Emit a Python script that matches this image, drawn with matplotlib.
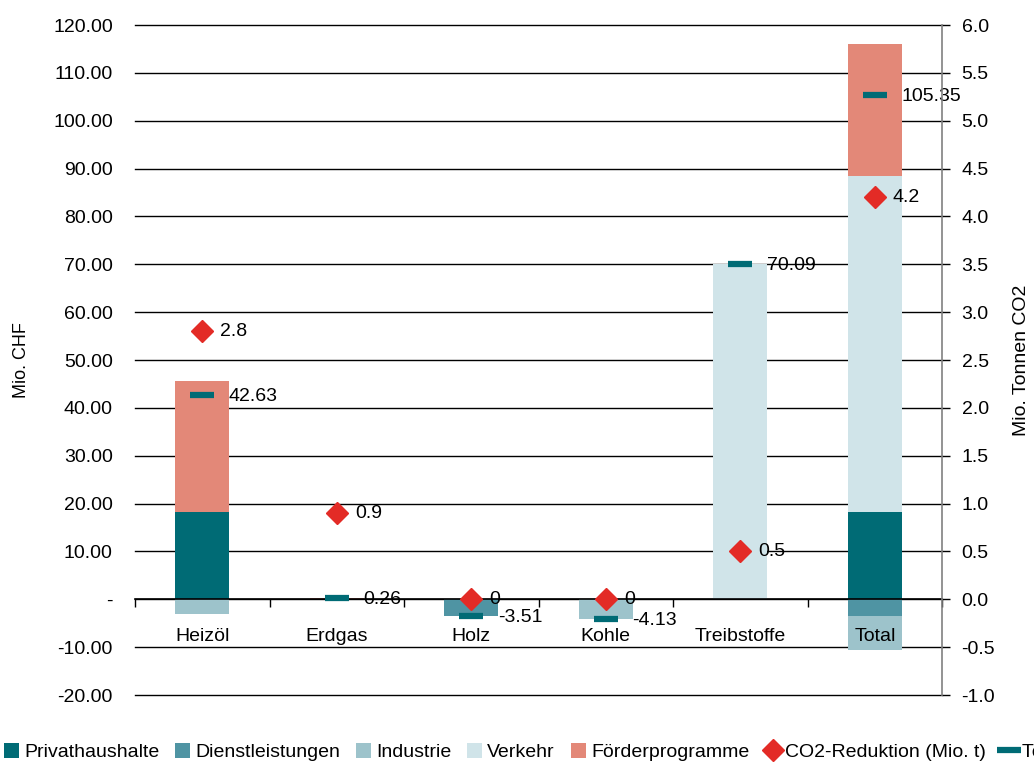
import numpy as np
import matplotlib.pyplot as plt
from matplotlib.lines import Line2D
from matplotlib.patches import Patch
from matplotlib.ticker import FuncFormatter, MultipleLocator

plt.rcParams['font.family'] = ['Liberation Sans Narrow', 'Liberation Sans', 'DejaVu Sans']

# -----------------------------
# Data
# -----------------------------
categories = ["Heizöl", "Erdgas", "Holz", "Kohle", "Treibstoffe", "Total"]

privathaushalte = [18.3, 0.0, 0.0, 0.0, 0.0, 18.3]
dienstleistungen = [0.0, 0.0, -3.51, 0.0, 0.0, -3.51]
industrie = [-2.97, 0.0, 0.0, -4.13, 0.0, -7.10]
verkehr = [0.0, 0.0, 0.0, 0.0, 70.09, 70.09]
foerderprogramme = [27.3, 0.26, 0.0, 0.0, 0.0, 27.57]

total_chf = [42.63, 0.26, -3.51, -4.13, 70.09, 105.35]
co2_reduktion = [2.8, 0.9, 0, 0, 0.5, 4.2]

series = [
    ("Privathaushalte", privathaushalte, "#006b75"),
    ("Dienstleistungen", dienstleistungen, "#4f94a3"),
    ("Industrie", industrie, "#9dc3cb"),
    ("Verkehr", verkehr, "#d0e4e9"),
    ("Förderprogramme", foerderprogramme, "#e38878"),
]

FS = 14

# -----------------------------
# Figure
# -----------------------------
fig = plt.figure(figsize=(10.34, 7.63), dpi=100)
ax = fig.add_axes([0.1306, 0.0891, 0.7805, 0.8781])
ax2 = ax.twinx()

x = np.arange(len(categories))
pos_bottom = np.zeros(len(categories))
neg_bottom = np.zeros(len(categories))
for name, vals, col in series:
    vals = np.array(vals)
    bottom = np.where(vals >= 0, pos_bottom, neg_bottom)
    ax.bar(x, vals, width=0.4, bottom=bottom, color=col, zorder=2)
    pos_bottom += np.where(vals >= 0, vals, 0)
    neg_bottom += np.where(vals < 0, vals, 0)

# total markers (left axis)
ax.plot(x, total_chf, linestyle='none', marker='_', markersize=17,
        markeredgewidth=4.5, color="#006b75", zorder=4)
for xi, v in zip(x, total_chf):
    ax.annotate(f"{v:g}", (xi, v), xytext=(19, -1), textcoords='offset points',
                va='center', ha='left', fontsize=FS, zorder=5)

# CO2 markers (right axis)
ax2.plot(x, co2_reduktion, linestyle='none', marker='D', markersize=11,
         color="#e32b26", zorder=4)
for xi, v in zip(x, co2_reduktion):
    ax2.annotate(f"{v:g}", (xi, v), xytext=(13, 0), textcoords='offset points',
                 va='center', ha='left', fontsize=FS, zorder=5)

# -----------------------------
# Axes styling
# -----------------------------
ax.set_xlim(-0.5, len(categories) - 0.5)
ax.set_ylim(-20, 120)
ax2.set_ylim(-1, 6)

ax.yaxis.set_major_locator(MultipleLocator(10))
ax.yaxis.set_major_formatter(FuncFormatter(lambda v, p: "-" if abs(v) < 1e-9 else f"{v:.2f}"))
ax.yaxis.grid(True, color='black', linewidth=1.0)
ax.set_axisbelow(True)
ax.xaxis.set_zorder(4)
for gl in ax.get_ygridlines():
    gl.set_clip_on(False)
ax.tick_params(axis='y', length=0, pad=16, labelsize=FS)

ax2.yaxis.set_major_locator(MultipleLocator(0.5))
ax2.yaxis.set_major_formatter(FuncFormatter(lambda v, p: f"{v:.1f}"))
ax2.tick_params(axis='y', length=6, width=1, color='black', pad=8, labelsize=FS)

for s in ['top', 'left']:
    ax.spines[s].set_visible(False)
    ax2.spines[s].set_visible(False)
ax.spines['right'].set_visible(False)
ax2.spines['bottom'].set_visible(False)
ax2.spines['right'].set_color('#808080')
ax2.spines['right'].set_linewidth(1.2)

ax.spines['bottom'].set_position(('data', 0))
ax.spines['bottom'].set_linewidth(1.2)
ax.spines['bottom'].set_zorder(3)
ax.set_xticks(x)
ax.set_xticklabels(categories)
ax.set_xticks(np.arange(-0.5, len(categories)), minor=True)
ax.tick_params(axis='x', which='major', length=0, pad=21, labelsize=FS)
ax.tick_params(axis='x', which='minor', length=6, width=1, direction='out')

fig.text(22 / 1034, 0.528, "Mio. CHF", rotation=90, ha='center', va='center', fontsize=13)
fig.text(1022 / 1034, 0.528, "Mio. Tonnen CO2", rotation=90, ha='center', va='center',
         fontsize=14)

# -----------------------------
# Legend
# -----------------------------
handles = [Patch(facecolor=col, edgecolor='none') for _, _, col in series]
labels = [name for name, _, _ in series]
handles.append(Line2D([], [], linestyle='none', marker='D', markersize=11, color="#e32b26"))
labels.append("CO2-Reduktion (Mio. t)")
handles.append(Line2D([], [], linestyle='none', marker='_', markersize=17,
                      markeredgewidth=4.5, color="#006b75"))
labels.append("Total (Mio. CHF)")
fig.legend(handles, labels, loc='lower left', bbox_to_anchor=(-0.004, -0.008),
           ncol=7, frameon=False, fontsize=FS, handlelength=0.8, handleheight=0.8,
           handletextpad=0.25, columnspacing=0.8, borderaxespad=0)

fig.savefig("out.png", dpi=100)
